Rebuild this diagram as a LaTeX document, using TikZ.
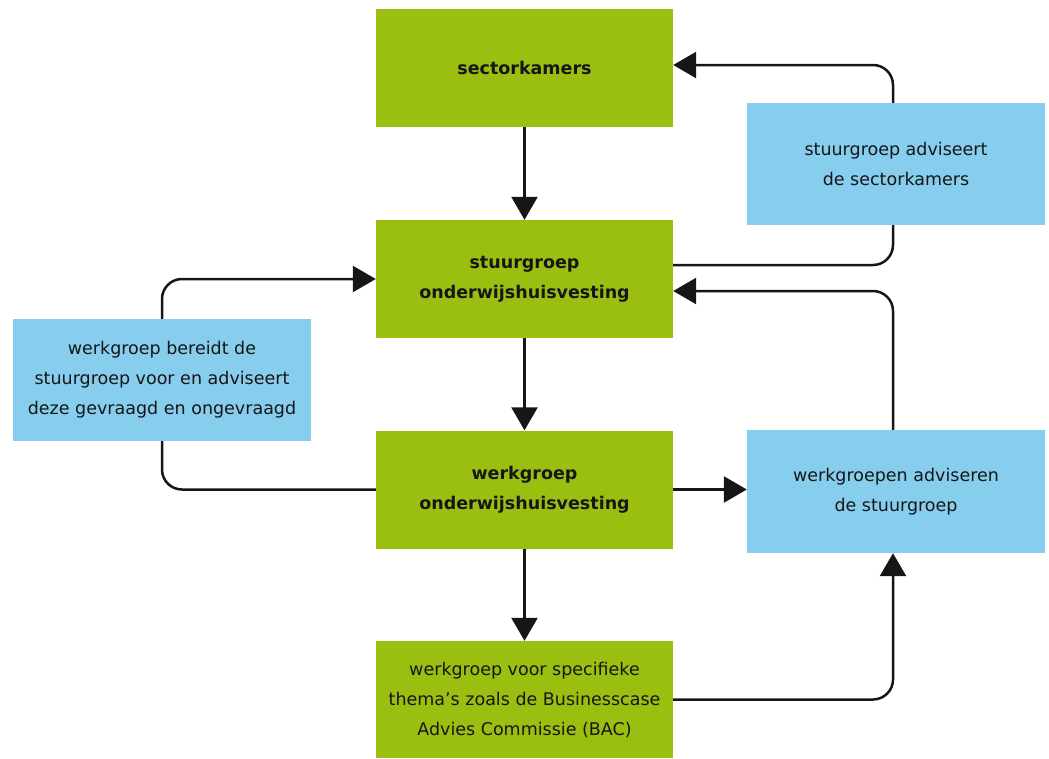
\documentclass[tikz,border=0pt]{standalone}
\usepackage{fontspec}
\setmainfont{DejaVu Sans}
\usetikzlibrary{arrows.meta,calc}
\definecolor{boxgreen}{RGB}{155,191,16}
\definecolor{boxblue}{RGB}{135,206,238}
\definecolor{ink}{RGB}{22,22,22}
\begin{document}
\begin{tikzpicture}[x=1pt,y=-1pt,
  gbox/.style={fill=boxgreen,draw=none,minimum width=297pt,minimum height=118pt,inner sep=0pt,align=center,text=ink,font=\fontsize{17.5}{30}\selectfont},
  bbox/.style={fill=boxblue,draw=none,minimum width=298pt,minimum height=122pt,inner sep=0pt,align=center,text=ink,font=\fontsize{17.5}{30}\selectfont},
  conn/.style={draw=ink,line width=2.5pt,rounded corners=20pt},
  arr/.style={conn,-{Triangle[length=23pt,width=26pt]}}
]
\useasboundingbox (0,0) rectangle (1049,758);
\node[gbox] (sk) at (524.5,68) {\textbf{sectorkamers}};
\node[gbox] (sg) at (524.5,279) {\textbf{stuurgroep}\\\textbf{onderwijshuisvesting}};
\node[gbox] (wg) at (524.5,489.5) {\textbf{werkgroep}\\\textbf{onderwijshuisvesting}};
\node[gbox,minimum height=117pt] (bac) at (524.5,699.5) {werkgroep voor specifieke\\thema’s zoals de Businesscase\\Advies Commissie (BAC)};
\node[bbox] (bt) at (896,164) {stuurgroep adviseert\\de sectorkamers};
\node[bbox] (bl) at (162,380) {werkgroep bereidt de\\stuurgroep voor en adviseert\\deze gevraagd en ongevraagd};
\node[bbox,minimum height=123pt] (bb) at (896,491.5) {werkgroepen adviseren\\de stuurgroep};

\draw[arr] (sk.south) -- (sg.north);
\draw[arr] (sg.south) -- (wg.north);
\draw[arr] (wg.south) -- (bac.north);
\draw[arr] (wg.east) -- (bb.west |- wg.east);
\draw[arr] (bac.east) -| ([xshift=-3pt]bb.south);
\draw[arr] ([xshift=-3pt]bb.north) |- ([yshift=-12pt]sg.east);
\draw[conn] ([yshift=14pt]sg.east) -| ([xshift=-3pt]bt.south);
\draw[arr] ([xshift=-3pt]bt.north) |- ([yshift=3pt]sk.east);
\draw[conn] (wg.west) -| (bl.south);
\draw[arr] (bl.north) |- (sg.west);
\end{tikzpicture}
\end{document}
